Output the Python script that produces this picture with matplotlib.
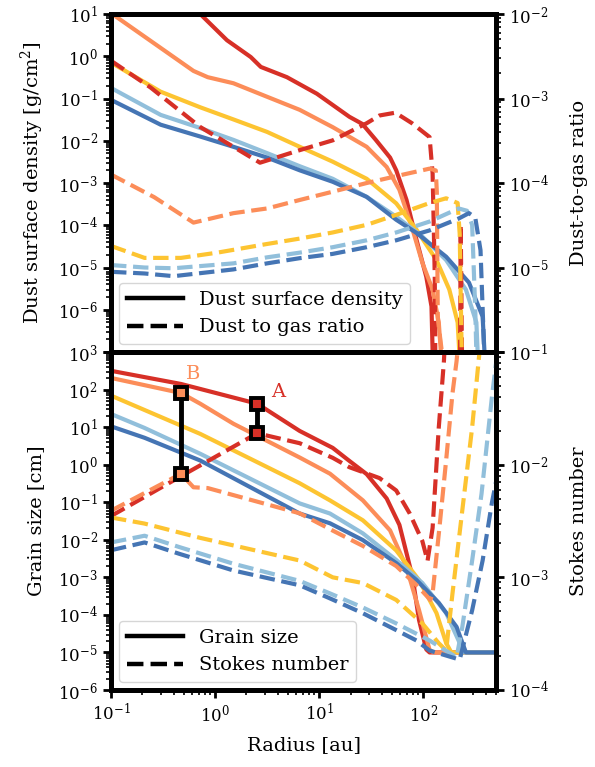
import numpy as np
import matplotlib
matplotlib.use("Agg")
import matplotlib.pyplot as plt
from matplotlib.ticker import LogLocator, FixedLocator, FuncFormatter, NullFormatter
from matplotlib.lines import Line2D

plt.rcParams['font.family'] = ['DejaVu Serif']
plt.rcParams['mathtext.fontset'] = 'dejavuserif'
plt.rcParams['font.size'] = 12

colors = ["#d73027", "#fc8d59", "#fdc431", "#91bfdb", "#4575b4"]

# dust surface density [g/cm^2] (left axis, top)
sigma_r = [
    [0.1, 0.72, 1.3, 2.2, 2.75, 4.9, 9.5, 19.5, 26, 35, 48, 55, 69, 86, 107, 120, 126],
    [0.1, 0.62, 0.85, 1.5, 3.16, 6.5, 13.5, 28.6, 44.5, 59, 79, 98, 123, 141, 158],
    [0.1, 0.30, 0.72, 1.5, 3.16, 6.5, 13.5, 28.6, 55, 86, 134, 178, 214, 234],
    [0.1, 0.30, 0.72, 1.5, 3.16, 6.5, 13.5, 28.6, 55, 98, 166, 257, 324, 347],
    [0.1, 0.30, 0.72, 1.5, 3.16, 6.5, 13.5, 28.6, 55, 86, 166, 275, 372, 407],
]
sigma = [
    [630, 10, 2.4, 0.96, 0.56, 0.32, 0.13, 0.037, 0.025, 0.0105, 0.004, 0.002, 4e-4, 4.6e-5, 6e-6, 1.2e-6, 1e-8],
    [10.5, 0.45, 0.32, 0.23, 0.11, 0.054, 0.021, 0.0072, 0.0024, 6.9e-4, 7.9e-5, 1.3e-5, 3e-6, 5e-7, 1e-8],
    [0.71, 0.145, 0.062, 0.032, 0.0162, 0.0072, 0.0032, 0.00126, 3.3e-4, 7.9e-5, 1.5e-5, 3e-6, 5e-7, 1e-8],
    [0.178, 0.041, 0.02, 0.0105, 0.0051, 0.0025, 0.00126, 4.7e-4, 1.6e-4, 5.4e-5, 1.5e-5, 3e-6, 5e-7, 1e-8],
    [0.093, 0.024, 0.0126, 0.0072, 0.004, 0.002, 0.00107, 4.7e-4, 1.35e-4, 6.6e-5, 1.8e-5, 4.4e-6, 6.9e-7, 1e-8],
]

# dust-to-gas ratio (right axis, top)
d2g_r = [
    [0.1, 0.24, 0.72, 2.7, 6.5, 13.5, 28.6, 38, 54, 78, 115, 123, 126, 129, 132, 224, 229, 240],
    [0.1, 0.26, 0.62, 1.5, 3.16, 6.5, 13.5, 28.6, 59, 115, 132, 135, 138, 151, 155],
    [0.1, 0.21, 0.47, 1.05, 3.16, 6.5, 13.5, 28.6, 55, 115, 166, 214, 224, 234, 240],
    [0.1, 0.21, 0.4, 1.5, 3.16, 6.5, 13.5, 28.6, 55, 115, 219, 263, 295, 316, 339],
    [0.1, 0.21, 0.4, 1.5, 3.16, 6.5, 13.5, 28.6, 55, 115, 219, 275, 316, 355, 380, 407],
]
d2g = [
    [2.8e-3, 1.35e-3, 4.6e-4, 1.74e-4, 2.45e-4, 3.2e-4, 5.1e-4, 6.3e-4, 6.8e-4, 5.1e-4, 3.5e-4, 1.3e-4, 3.3e-5, 7.9e-6, 1e-7, 1e-7, 3.2e-5, 1e-7],
    [1.26e-4, 6.8e-5, 3.4e-5, 4.4e-5, 5e-5, 6.3e-5, 7.9e-5, 1e-4, 1.23e-4, 1.48e-4, 1.41e-4, 7.9e-5, 2.5e-6, 1e-6, 1e-7],
    [1.8e-5, 1.3e-5, 1.3e-5, 1.5e-5, 1.9e-5, 2.2e-5, 2.6e-5, 3.2e-5, 4.2e-5, 5.8e-5, 6.6e-5, 5.8e-5, 2.5e-5, 1e-6, 1e-7],
    [1.07e-5, 1e-5, 9.8e-6, 1.12e-5, 1.32e-5, 1.5e-5, 1.74e-5, 2.1e-5, 2.6e-5, 3.5e-5, 5e-5, 4.7e-5, 3.2e-5, 3.2e-6, 1e-7],
    [8.9e-6, 8.5e-6, 7.9e-6, 9.5e-6, 1.12e-5, 1.29e-5, 1.45e-5, 1.74e-5, 2.1e-5, 2.75e-5, 3.8e-5, 4.4e-5, 3.9e-5, 1.6e-5, 1.6e-6, 1e-7],
]

# grain size [cm] (left axis, bottom)
size_r = [
    [0.1, 0.47, 2.54, 6.5, 13.5, 19.5, 28.6, 44.5, 59, 79, 91, 107, 115, 500],
    [0.1, 0.47, 0.72, 1.5, 6.5, 12.7, 26.3, 48, 69, 91, 115, 126, 500],
    [0.1, 0.72, 6.5, 12.7, 26.3, 55, 91, 134, 166, 186, 500],
    [0.1, 0.21, 0.72, 6.5, 12.7, 26.3, 55, 98, 166, 224, 245, 500],
    [0.1, 0.21, 0.72, 6.5, 12.7, 26.3, 55, 86, 141, 209, 257, 500],
]
size = [
    [316, 141, 42, 7.9, 2.8, 1.26, 0.56, 0.126, 0.025, 1e-3, 7.4e-5, 1.2e-5, 1e-5, 1e-5],
    [204, 81, 42, 12.3, 1.55, 0.575, 0.112, 0.0178, 1.86e-3, 1.35e-4, 1.17e-5, 1e-5, 1e-5],
    [69, 6.6, 0.32, 0.112, 0.033, 5.2e-3, 8.5e-4, 1.12e-4, 1.78e-5, 1e-5, 1e-5],
    [22.4, 9.5, 1.95, 0.093, 0.05, 0.0148, 2.9e-3, 7.1e-4, 1.12e-4, 1.78e-5, 1e-5, 1e-5],
    [10.5, 5.2, 1.29, 0.05, 0.0275, 9.8e-3, 2.4e-3, 8.5e-4, 2.1e-4, 4.8e-5, 1e-5, 1e-5],
]

# Stokes number (right axis, bottom)
stokes_r = [
    [0.1, 0.47, 2.54, 6.5, 13.5, 19.5, 38, 55, 74, 98, 110, 123, 141, 158, 170],
    [0.1, 0.47, 0.62, 0.85, 6.5, 13.5, 26.3, 55, 89, 117, 123, 143, 166, 191, 209, 240],
    [0.1, 0.21, 0.72, 6.5, 13.5, 26.3, 55, 98, 141, 166, 191, 237, 295, 347, 380],
    [0.1, 0.21, 0.45, 1.5, 6.5, 12.7, 26.3, 55, 115, 209, 237, 295, 363, 457, 500],
    [0.1, 0.21, 0.45, 1.5, 6.5, 12.7, 26.3, 55, 86, 115, 224, 295, 372, 457, 500],
]
stokes = [
    [3.5e-3, 7.9e-3, 0.019, 0.0155, 0.0115, 9.5e-3, 7.6e-3, 5.9e-3, 3.7e-3, 2.1e-3, 1.4e-3, 2.75e-3, 0.0214, 0.083, 0.32],
    [3.9e-3, 8.3e-3, 6.3e-3, 6.2e-3, 3.7e-3, 2.6e-3, 1.9e-3, 1.26e-3, 8.3e-4, 6.3e-4, 7.2e-4, 2.75e-3, 0.011, 0.043, 0.083, 0.32],
    [3.4e-3, 3e-3, 2.24e-3, 1.41e-3, 1e-3, 8.9e-4, 6.3e-4, 3.9e-4, 2.6e-4, 2.24e-4, 7.2e-4, 3.9e-3, 0.0214, 0.1, 0.32],
    [2.04e-3, 2.34e-3, 1.86e-3, 1.32e-3, 9.3e-4, 7.2e-4, 5.4e-4, 3.9e-4, 2.75e-4, 1.95e-4, 3.6e-4, 1.41e-3, 5.5e-3, 0.04, 0.079],
    [1.74e-3, 2.04e-3, 1.62e-3, 1.15e-3, 8.5e-4, 6.5e-4, 4.8e-4, 3.4e-4, 2.75e-4, 2.24e-4, 1.86e-4, 5.1e-4, 1.41e-3, 4.6e-3, 7e-3],
]

# marked points A and B: radius, grain size, Stokes number
mark_labels = ["A", "B"]
mark_color = [0, 1]
mark_r = [2.54, 0.47]
mark_size = [42, 81]
mark_stokes = [0.019, 8.3e-3]

LW = 3.0


def decade_label(skip=None):
    def f(v, pos):
        if v <= 0:
            return ""
        e = int(round(np.log10(v)))
        if skip is not None and e == skip:
            return ""
        return r"$\mathdefault{10^{%d}}$" % e
    return FuncFormatter(f)


def style_axis(ax, lo, hi, skip=None):
    ax.set_yscale("log")
    ax.set_ylim(10.0 ** lo, 10.0 ** hi)
    ax.yaxis.set_major_locator(FixedLocator([10.0 ** e for e in range(lo, hi + 1)]))
    ax.yaxis.set_major_formatter(decade_label(skip))
    ax.yaxis.set_minor_locator(LogLocator(base=10, subs=np.arange(2, 10), numticks=30))
    ax.yaxis.set_minor_formatter(NullFormatter())
    ax.tick_params(which="major", length=6, width=2)
    ax.tick_params(which="minor", length=3.5, width=1.2)
    for sp in ax.spines.values():
        sp.set_linewidth(3.5)


fig = plt.figure(figsize=(5.95, 7.67), dpi=100)
ax_t = fig.add_subplot(2, 1, 1)
ax_b = fig.add_subplot(2, 1, 2, sharex=ax_t)
fig.subplots_adjust(left=0.1866, right=0.8336, top=0.9817, bottom=0.1004, hspace=0)
ax_t2 = ax_t.twinx()
ax_b2 = ax_b.twinx()

for i, c in enumerate(colors):
    ax_t.plot(sigma_r[i], sigma[i], color=c, lw=LW)
    ax_t2.plot(d2g_r[i], d2g[i], color=c, lw=LW, ls="--")
    ax_b.plot(size_r[i], size[i], color=c, lw=LW)
    ax_b2.plot(stokes_r[i], stokes[i], color=c, lw=LW, ls="--")

ax_t.set_xscale("log")
ax_t.set_xlim(0.1, 500)
ax_t.xaxis.set_minor_formatter(NullFormatter())
plt.setp(ax_t.get_xticklabels(), visible=False)

style_axis(ax_t, -7, 1, skip=-7)
style_axis(ax_t2, -6, -2, skip=-6)
style_axis(ax_b, -6, 3)
style_axis(ax_b2, -4, -1)
for ax in (ax_t, ax_b):
    ax.tick_params(axis="x", which="major", length=6, width=2)
    ax.tick_params(axis="x", which="minor", length=3.5, width=1.2)

ax_t.set_ylabel("Dust surface density [g/cm$^2$]", fontsize=14, labelpad=9)
ax_t2.set_ylabel("Dust-to-gas ratio", fontsize=14, labelpad=15)
ax_b.set_ylabel("Grain size [cm]", fontsize=14, labelpad=9)
ax_b2.set_ylabel("Stokes number", fontsize=14, labelpad=15)
ax_b.set_xlabel("Radius [au]", fontsize=14, labelpad=8)

# markers A and B, drawn in the right-axis frame so they sit on top
for lab, ci, r, a, st in zip(mark_labels, mark_color, mark_r, mark_size, mark_stokes):
    disp = ax_b.transData.transform((r, a))
    a_st = ax_b2.transData.inverted().transform(disp)[1]
    c = colors[ci]
    ax_b2.plot([r, r], [a_st, st], color="k", lw=3.5, zorder=5)
    ax_b2.plot([r, r], [a_st, st], ls="none", marker="s", ms=9, mfc=c, mec="k", mew=2.8, zorder=6)
    off = (15, 2) if lab == "A" else (9, 7)
    ax_b2.annotate(lab, (r, a_st), xytext=off, textcoords="offset points",
                   color=c, fontsize=14, ha="center", va="bottom")

h_t = [Line2D([], [], color="k", lw=3.2), Line2D([], [], color="k", lw=3.2, ls="--")]
ax_t2.legend(h_t, ["Dust surface density", "Dust to gas ratio"], loc="lower left",
             handlelength=2.9, fontsize=14, borderaxespad=0.4)
ax_b2.legend(h_t, ["Grain size", "Stokes number"], loc="lower left",
             handlelength=2.9, fontsize=14, borderaxespad=0.4)

fig.savefig("out.png", dpi=100)
